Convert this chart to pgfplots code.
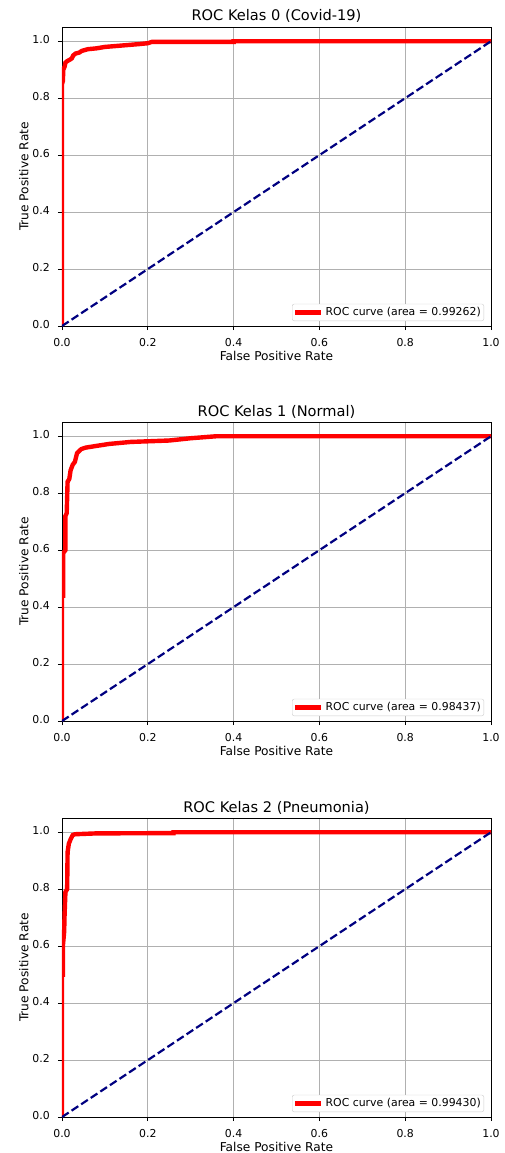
\documentclass[border=0pt]{standalone}
\usepackage{fontspec}
\setmainfont{DejaVu Sans}
\usepackage{pgfplots}
\pgfplotsset{compat=1.18}
\definecolor{mplgrid}{gray}{0.69}
\definecolor{navyc}{RGB}{0,0,128}
\pgfplotsset{roc/.style={
  scale only axis, width=429pt, height=299pt,
  xmin=0, xmax=1, ymin=0, ymax=1.05,
  xtick={0,0.2,0.4,0.6,0.8,1}, ytick={0,0.2,0.4,0.6,0.8,1},
  xticklabels={0.0,0.2,0.4,0.6,0.8,1.0},
  yticklabels={0.0,0.2,0.4,0.6,0.8,1.0},
  grid=major, major grid style={mplgrid, line width=0.9pt},
  axis line style={line width=0.9pt},
  tick style={black, line width=0.9pt},
  tick align=outside, major tick length=4pt, tick pos=left,
  ticklabel style={font=\fontsize{10.9}{13}\selectfont},
  xticklabel style={anchor=base, inner sep=0pt, yshift=-16.7pt},
  yticklabel style={anchor=mid east, inner sep=0pt, xshift=-8pt},
  label style={font=\fontsize{12.2}{14}\selectfont},
  xlabel={False Positive Rate}, ylabel={True Positive Rate},
  xlabel style={at={(axis description cs:0.5,0)}, anchor=base, yshift=-34pt},
  ylabel style={at={(axis description cs:0,0.5)}, anchor=base, yshift=33.7pt},
  title style={font=\fontsize{14.6}{17}\selectfont, at={(axis description cs:0.5,1)}, anchor=base, yshift=0pt},
  legend cell align=left,
  legend style={at={(axis description cs:1,0)}, anchor=south east, xshift=-7pt, yshift=5pt,
    draw=black!20, rounded corners=2pt, inner xsep=1pt, inner ysep=1.5pt,
    font=\fontsize{10.9}{13}\selectfont},
  legend image code/.code={\draw[#1] (0pt,0pt) -- (26pt,0pt);},
}}
\begin{document}
\begin{tikzpicture}
\path[use as bounding box] (0,0) rectangle (505pt,-1153pt);
\begin{axis}[roc, at={(62pt,-326pt)}, anchor=south west, title={ROC Kelas 0 (Covid-19)}]
\addplot[red, line width=4.4pt] coordinates {(0,0) (0,0.85) (0.002,0.86) (0.003,0.90) (0.006,0.91) (0.008,0.925) (0.012,0.93) (0.018,0.935) (0.023,0.94) (0.026,0.95) (0.032,0.957) (0.04,0.96) (0.046,0.966) (0.06,0.972) (0.08,0.975) (0.1,0.98) (0.14,0.985) (0.18,0.99) (0.2,0.993) (0.21,0.998) (0.4,0.998) (0.4,1) (1,1)};
\addlegendentry{ROC curve (area = 0.99262)}
\addplot[navyc, line width=2.2pt, dash pattern=on 8pt off 3.5pt, forget plot] coordinates {(0,0) (1,1)};
\end{axis}
\begin{axis}[roc, at={(62pt,-721pt)}, anchor=south west, title={ROC Kelas 1 (Normal)}]
\addplot[red, line width=4.4pt] coordinates {(0,0) (0,0.44) (0.003,0.44) (0.003,0.59) (0.008,0.6) (0.008,0.72) (0.011,0.73) (0.013,0.84) (0.017,0.85) (0.02,0.88) (0.025,0.9) (0.03,0.91) (0.035,0.94) (0.045,0.955) (0.055,0.96) (0.08,0.966) (0.11,0.973) (0.16,0.98) (0.25,0.985) (0.3,0.993) (0.36,1) (1,1)};
\addlegendentry{ROC curve (area = 0.98437)}
\addplot[navyc, line width=2.2pt, dash pattern=on 8pt off 3.5pt, forget plot] coordinates {(0,0) (1,1)};
\end{axis}
\begin{axis}[roc, at={(62pt,-1117pt)}, anchor=south west, title={ROC Kelas 2 (Pneumonia)}]
\addplot[red, line width=4.4pt] coordinates {(0,0) (0,0.5) (0.002,0.5) (0.002,0.6) (0.005,0.65) (0.006,0.71) (0.008,0.79) (0.012,0.80) (0.013,0.93) (0.016,0.96) (0.02,0.975) (0.025,0.99) (0.03,0.993) (0.08,0.996) (0.26,0.997) (0.26,1) (1,1)};
\addlegendentry{ROC curve (area = 0.99430)}
\addplot[navyc, line width=2.2pt, dash pattern=on 8pt off 3.5pt, forget plot] coordinates {(0,0) (1,1)};
\end{axis}
\end{tikzpicture}
\end{document}
